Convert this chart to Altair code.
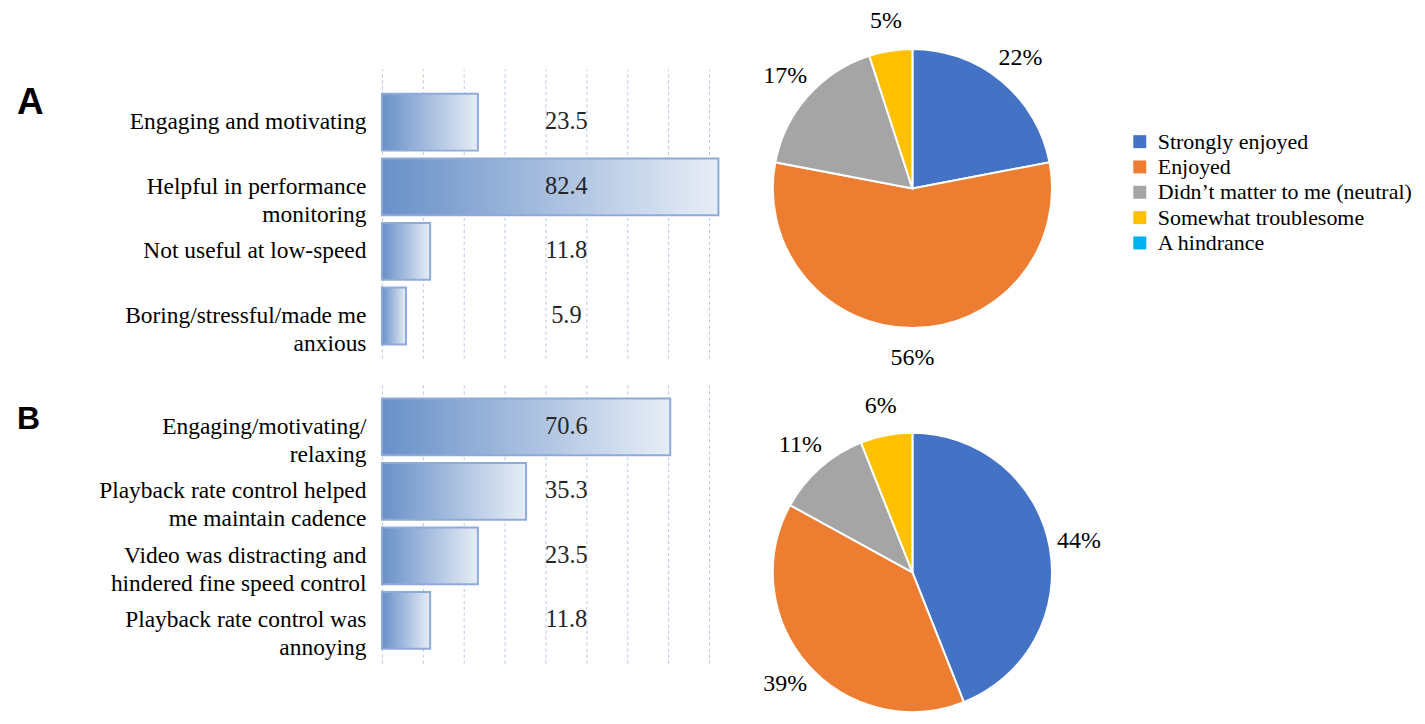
import altair as alt
import pandas as pd

SERIF = "Liberation Serif"

# ---- data ----
a_categories = [
    "Engaging and motivating",
    "Helpful in performance|monitoring",
    "Not useful at low-speed",
    "Boring/stressful/made me|anxious",
]
a_values = [23.5, 82.4, 11.8, 5.9]

b_categories = [
    "Engaging/motivating/|relaxing",
    "Playback rate control helped|me maintain cadence",
    "Video was distracting and|hindered fine speed control",
    "Playback rate control was|annoying",
]
b_values = [70.6, 35.3, 23.5, 11.8]

x_ticks = [0, 10, 20, 30, 40, 50, 60, 70, 80]

pie_categories = [
    "Strongly enjoyed",
    "Enjoyed",
    "Didn\u2019t matter to me (neutral)",
    "Somewhat troublesome",
    "A hindrance",
]
pie_colors = ["#4472C4", "#ED7D31", "#A5A5A5", "#FFC000", "#00B0F0"]
pie_a_values = [22, 56, 17, 5]
pie_b_values = [44, 39, 11, 6]

grad = alt.Gradient(
    gradient="linear",
    stops=[
        alt.GradientStop(color="#6890C8", offset=0),
        alt.GradientStop(color="#E7EDF6", offset=1),
    ],
    x1=0, x2=1, y1=0, y2=0,
)


def bar_panel(cats, vals, letter, letter_size, letter_y, height, pad_outer, align):
    df = pd.DataFrame({"category": cats, "value": vals})
    df["label"] = [f"{v:.1f}" for v in vals]
    base = alt.Chart(df)
    y = alt.Y(
        "category:N", sort=cats, title=None,
        scale=alt.Scale(paddingInner=0.12, paddingOuter=pad_outer, align=align),
        axis=alt.Axis(
            domain=False, ticks=False, labelFont=SERIF, labelFontSize=23.5,
            labelColor="#000", labelPadding=16, labelLimit=500,
            labelLineHeight=28, labelExpr="split(datum.label, '|')",
        ),
    )
    x = alt.X(
        "value:Q", title=None,
        scale=alt.Scale(domain=[0, 84], nice=False),
        axis=alt.Axis(
            values=x_ticks, labels=False, ticks=False, domain=False, grid=True,
            gridColor="#B4C7E7", gridDash=[3, 3], gridWidth=1,
        ),
    )
    bars = base.mark_bar(color=grad, stroke="#8EAADB", strokeWidth=2).encode(x=x, y=y)
    text = base.mark_text(
        font=SERIF, fontSize=24.5, color="#262626", align="center", baseline="middle"
    ).encode(x=alt.value(185), y=alt.Y("category:N", sort=cats), text="label:N")
    letter_chart = alt.Chart(pd.DataFrame({"panel": [letter]})).mark_text(
        font="Liberation Sans", fontWeight="bold", fontSize=letter_size,
        align="left", baseline="alphabetic", color="#000",
    ).encode(x=alt.value(-366), y=alt.value(letter_y), text="panel:N")
    return alt.layer(bars, text, letter_chart).properties(width=344, height=height)


legend = alt.Legend(
    orient="none", legendX=749, legendY=62, title=None,
    symbolType="square", symbolSize=169, symbolStrokeWidth=0,
    labelFont=SERIF, labelFontSize=22, labelColor="#000", labelOffset=7,
    rowPadding=3.4, padding=0, labelLimit=400,
)


def pie_panel(panel, vals, height, center_align):
    cats = pie_categories[: len(vals)]
    df = pd.DataFrame({
        "panel": [panel] * len(vals),
        "category": cats,
        "value": vals,
        "idx": list(range(len(vals))),
    })
    df["label"] = [f"{v}%" for v in vals]
    base = alt.Chart(df).encode(
        theta=alt.Theta("value:Q", stack=True),
        order=alt.Order("idx:Q"),
        y=alt.Y("panel:N", title=None, axis=None,
                scale=alt.Scale(type="point", align=center_align)),
    )
    arcs = base.mark_arc(outerRadius=140, stroke="white", strokeWidth=2).encode(
        color=alt.Color(
            "category:N",
            scale=alt.Scale(domain=pie_categories, range=pie_colors),
            legend=legend,
        )
    )
    labels = base.mark_text(
        radius=170, font=SERIF, fontSize=24, color="#000", align="center", baseline="middle"
    ).encode(text="label:N")
    return alt.layer(arcs, labels).properties(width=280, height=height)


bar_a = bar_panel(a_categories, a_values, "A", 37, 45, 290, 0.2977, 0.648)
bar_b = bar_panel(b_categories, b_values, "B", 32, 45, 280, 0.224, 0.5)
pie_a = pie_panel("A", pie_a_values, 290, 120 / 290)
pie_b = pie_panel("B", pie_b_values, 280, 189 / 280)

chart = (
    alt.concat(bar_a, pie_a, bar_b, pie_b, columns=2, bounds="flush",
               spacing={"row": 26, "column": 48})
    .properties(padding={"left": 9, "top": 0, "right": 5, "bottom": 0})
    .configure_view(stroke=None)
)

chart.save("out.html", embed_options={"renderer": "svg", "actions": False})
